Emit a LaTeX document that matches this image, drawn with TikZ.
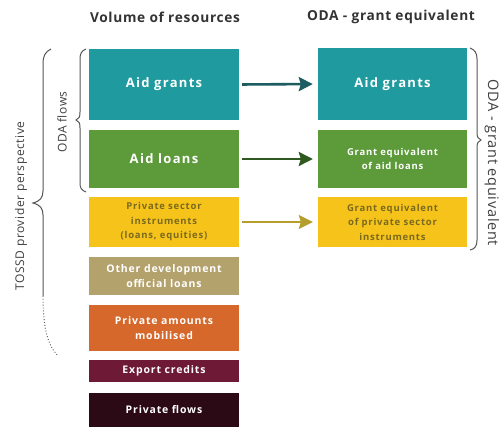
\documentclass[tikz,border=0pt]{standalone}
\usepackage{fontspec}
\setmainfont{Open Sans}
\usetikzlibrary{arrows.meta}
\definecolor{cteal}{HTML}{1F9A9F}
\definecolor{cgreen}{HTML}{5C9A3A}
\definecolor{cyellow}{HTML}{F6C31A}
\definecolor{ctan}{HTML}{B4A26C}
\definecolor{corange}{HTML}{D6682B}
\definecolor{cmaroon}{HTML}{6E1A36}
\definecolor{cdark}{HTML}{2C0A15}
\definecolor{ateal}{HTML}{1D5C60}
\definecolor{agreen}{HTML}{2E5A20}
\definecolor{aolive}{HTML}{B59E2C}
\definecolor{ytext}{HTML}{7A6A1E}
\definecolor{bracecol}{HTML}{555555}
\newcommand{\fbig}{\fontsize{13}{15}\selectfont\bfseries\addfontfeatures{LetterSpace=10}}
\newcommand{\fmid}{\fontsize{10.5}{14.5}\selectfont\bfseries\addfontfeatures{LetterSpace=8}}
\newcommand{\fsml}{\fontsize{9.5}{14.5}\selectfont\bfseries\addfontfeatures{LetterSpace=8}}
\begin{document}
\begin{tikzpicture}[x=1pt,y=-1pt,
  box/.style={rectangle, inner sep=1pt, minimum width=150pt, align=center,
    font=\fmid, text=white},
  ybox/.style={box, fill=cyellow, text=ytext, font=\fsml},
  title/.style={font=\fontsize{13.7}{16}\selectfont\bfseries\addfontfeatures{LetterSpace=5}, text=black!80},
  side/.style={font=\fontsize{12}{14}\selectfont\addfontfeatures{LetterSpace=5}, text=black!75},
  flow/.style={line width=2.6pt, shorten <=3pt, shorten >=5pt, -{Stealth[length=14pt,width=14pt,inset=2pt]}},
  brc/.style={draw=bracecol, line width=1pt}]
\useasboundingbox (0,0) rectangle (503,428);
\fill[white] (0,0) rectangle (503,428);

\node[title] (t1) at (165,17) {Volume of resources};
\node[title] (t2) at (391,17) {ODA - grant equivalent};

\node[box, fill=cteal, minimum height=71pt, font=\fbig] (g1) at (164,84.5) {Aid grants};
\node[box, fill=cgreen, minimum height=58pt, font=\fbig] (l1) at (164,159) {Aid loans};
\node[ybox, minimum height=50pt] (p1) at (164,222) {Private sector\\instruments\\(loans, equities)};
\node[box, fill=ctan, minimum height=38pt] (o1) at (164,276) {Other development\\official loans};
\node[box, fill=corange, minimum height=46pt] (m1) at (164,328) {Private amounts\\mobilised};
\node[box, fill=cmaroon, minimum height=22pt] (e1) at (164,371) {Export credits};
\node[box, fill=cdark, minimum height=34pt] (f1) at (164,410) {Private flows};

\node[box, fill=cteal, minimum width=149pt, minimum height=72pt, font=\fbig] (g2) at (392.5,84) {Aid grants};
\node[box, fill=cgreen, minimum width=149pt, minimum height=58pt, font=\fsml] (l2) at (392.5,159) {Grant equivalent\\of aid loans};
\node[ybox, minimum width=149pt, minimum height=50pt] (p2) at (392.5,222) {Grant equivalent\\of private sector\\instruments};

\draw[flow, draw=ateal, fill=ateal] (g1.east) -- (g2.west);
\draw[flow, draw=agreen, fill=agreen] (l1.east) -- (l2.west);
\draw[flow, line width=1.6pt, draw=aolive, fill=aolive] (p1.east) -- (p2.west);

% outer brace (TOSSD)
\draw[brc] (51,49) .. controls (45,52) and (43,56) .. (43,64) -- (43,191)
  .. controls (43,198) and (40,201) .. (33,203)
  .. controls (40,205) and (43,208) .. (43,215) -- (43,296);
\draw[brc, line width=0.9pt, dotted] (43,296) .. controls (43,330) and (48,345) .. (58,356);
\node[side, rotate=90] (tossd) at (21,206) {TOSSD provider perspective};

% inner brace (ODA flows)
\draw[brc] (86,49) .. controls (81,51) and (80,54) .. (80,60) -- (80,112)
  .. controls (80,117) and (79,119) .. (76,120)
  .. controls (79,121) and (80,123) .. (80,128) -- (80,182)
  .. controls (80,188) and (81,190) .. (86,192);
\node[side, rotate=90] (odaf) at (62,122) {ODA flows};

% right brace
\draw[brc] (470,48) .. controls (475,50) and (477,53) .. (477,59) -- (477,132)
  .. controls (477,137) and (478,139) .. (481,140)
  .. controls (478,141) and (477,143) .. (477,148) -- (477,240)
  .. controls (477,246) and (475,249) .. (470,250);
\node[side, rotate=-90, font=\fontsize{14.5}{16}\selectfont\addfontfeatures{LetterSpace=5}] (odag) at (492,163) {ODA - grant equivalent};
\end{tikzpicture}
\end{document}
